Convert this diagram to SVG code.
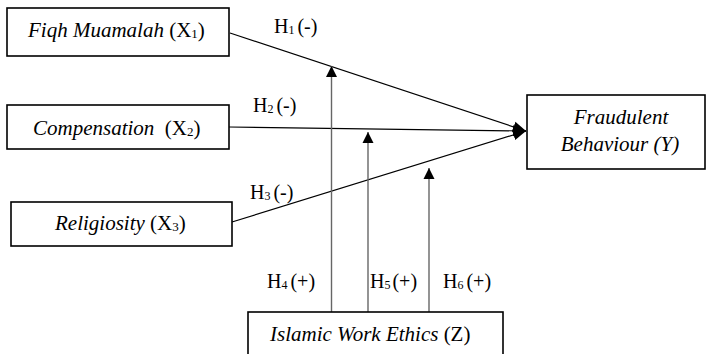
<svg xmlns="http://www.w3.org/2000/svg" width="707" height="354" viewBox="0 0 707 354">
<style>
.box{fill:#fff;stroke:#000;stroke-width:1.6}
text{font-family:'Liberation Serif','Times New Roman',serif;fill:#000}
.t{font-size:21px}
.i{font-style:italic}
.h{font-size:20px}
.d{stroke:#000;stroke-width:1.2;fill:none}
.v{stroke:#666;stroke-width:1.4;fill:none}
</style>
<defs>
<marker id="ah" markerUnits="userSpaceOnUse" markerWidth="14" markerHeight="14" viewBox="0 0 14 14" refX="13" refY="7" orient="auto">
<path d="M0,1.5 L13,7 L0,12.5 Z" fill="#000"/>
</marker>
<marker id="av" markerUnits="userSpaceOnUse" markerWidth="12" markerHeight="12" viewBox="0 0 12 12" refX="11" refY="6" orient="auto">
<path d="M0,0.5 L11,6 L0,11.5 Z" fill="#000"/>
</marker>
</defs>
<g id="connectors">
<line class="d" x1="230" y1="33" x2="526" y2="131" marker-end="url(#ah)"/>
<line class="d" x1="229" y1="127" x2="526" y2="131" marker-end="url(#ah)"/>
<line class="d" x1="232" y1="222" x2="526" y2="131" marker-end="url(#ah)"/>
<line class="v" x1="331.5" y1="312" x2="331.5" y2="66" marker-end="url(#av)"/>
<line class="v" x1="368" y1="312" x2="368" y2="132" marker-end="url(#av)"/>
<line class="v" x1="429" y1="312" x2="429" y2="168" marker-end="url(#av)"/>
</g>
<g id="labels">
<text class="h" x="274" y="33">H<tspan font-size="12px" dy="1">1</tspan><tspan dx="3" dy="-1">(-)</tspan></text>
<text class="h" x="253" y="112">H<tspan font-size="12px" dy="1">2</tspan><tspan dx="3" dy="-1">(-)</tspan></text>
<text class="h" x="250" y="199">H<tspan font-size="12px" dy="1">3</tspan><tspan dx="3" dy="-1">(-)</tspan></text>
<text class="h" x="267" y="288">H<tspan font-size="12px" dy="1">4</tspan><tspan dx="3" dy="-1">(+)</tspan></text>
<text class="h" x="370" y="288">H<tspan font-size="12px" dy="1">5</tspan><tspan dx="2" dy="-1">(+)</tspan></text>
<text class="h" x="443" y="288">H<tspan font-size="12px" dy="1">6</tspan><tspan dx="3" dy="-1">(+)</tspan></text>
</g>
<g id="x1">
<rect class="box" x="7" y="8" width="222" height="48"/>
<text class="t" x="28" y="37"><tspan class="i">Fiqh Muamalah</tspan> (X<tspan font-size="13px" dy="1">1</tspan><tspan dy="-1">)</tspan></text>
</g>
<g id="x2">
<rect class="box" x="7" y="105" width="222" height="44"/>
<text class="t" x="33" y="135" xml:space="preserve"><tspan class="i">Compensation</tspan>  (X<tspan font-size="13px" dy="1">2</tspan><tspan dy="-1">)</tspan></text>
</g>
<g id="x3">
<rect class="box" x="11" y="202" width="221" height="44"/>
<text class="t" x="55" y="230"><tspan class="i">Religiosity</tspan> (X<tspan font-size="13px" dy="1">3</tspan><tspan dy="-1">)</tspan></text>
</g>
<g id="y">
<rect class="box" x="527" y="95" width="178" height="74"/>
<text class="t i" x="621" y="124" text-anchor="middle">Fraudulent</text>
<text class="t i" x="620" y="151" text-anchor="middle">Behaviour (Y)</text>
</g>
<g id="z">
<rect class="box" x="248" y="312" width="255" height="60"/>
<text class="t" x="270" y="341"><tspan class="i">Islamic Work Ethics</tspan> (Z)</text>
</g>
</svg>
